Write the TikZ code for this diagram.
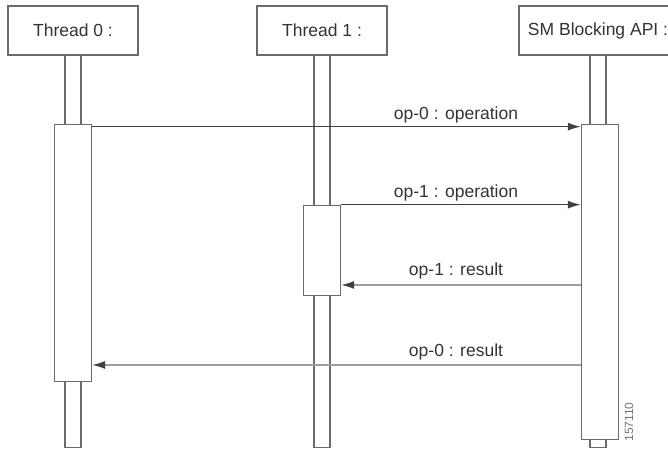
\documentclass[tikz,border=0pt]{standalone}
\usepackage{fontspec}
\setmainfont{Liberation Sans}
\usetikzlibrary{arrows.meta,calc,positioning}
\definecolor{boxgray}{gray}{0.42}
\definecolor{callgray}{gray}{0.25}
\definecolor{replygray}{gray}{0.62}
\definecolor{textgray}{gray}{0.2}

\begin{document}
\begin{tikzpicture}[x=1pt,y=-1pt,
  head/.style={draw=boxgray,fill=white,line width=1.3pt,minimum width=130pt,minimum height=49pt,inner sep=0pt,text=textgray,font=\fontsize{17.5}{20}\selectfont},
  life/.style={draw=boxgray,line width=1.3pt},
  act/.style={draw=boxgray,fill=white,line width=1.3pt,minimum width=37pt,inner sep=0pt,anchor=north},
  call/.style={draw=callgray,line width=1.3pt,-{Latex[length=13pt,width=8pt]}},
  reply/.style={draw=replygray,line width=1.3pt,-{Latex[length=13pt,width=8pt,color=callgray]}},
  msg/.style={anchor=base,text=textgray,font=\fontsize{17.5}{20}\selectfont}]
\useasboundingbox (0,0) rectangle (668,448);
\node[head] (t0) at (73,30.5) {Thread 0 :};
\node[head] (t1) at (322,30.5) {Thread 1 :};
\node[head,minimum width=158pt] (sm) at (598,30.5) {SM Blocking API :};
\draw[life] ($(t0.south)+(-8,0)$) rectangle ($(t0.south)+(8,392)$);
\draw[life] ($(t1.south)+(-8,0)$) rectangle ($(t1.south)+(8,392)$);
\draw[life] ($(sm.south)+(-8,0)$) rectangle ($(sm.south)+(8,392)$);
\node[act,minimum height=257pt] (a0) at ($(t0.south)+(0,68)$) {};
\node[act,minimum height=90pt] (a1) at ($(t1.south)+(0,149)$) {};
\node[act,minimum height=315pt] (as) at ($(sm.south)+(2,68)$) {};
\draw[call] ($(a0.north east)+(0,3)$) coordinate (c0) -- (c0 -| as.west);
\draw[call] (a1.north east) -- (a1.north east -| as.west);
\draw[reply] ($(as.west |- a1.south)+(0,-11)$) coordinate (r1) -- (r1 -| a1.east);
\draw[reply] ($(as.west |- a0.south)+(0,-17)$) coordinate (r0) -- (r0 -| a0.east);
\node[msg] (m0) at (456,119) {op-0 : operation};
\node[msg] (m1) at (456,197) {op-1 : operation};
\node[msg] (m2) at (456,275) {op-1 : result};
\node[msg] (m3) at (456,356) {op-0 : result};
\node[rotate=90,text=black!55,font=\fontsize{12}{12}\selectfont] (id) at (629,422) {157110};
\end{tikzpicture}
\end{document}
